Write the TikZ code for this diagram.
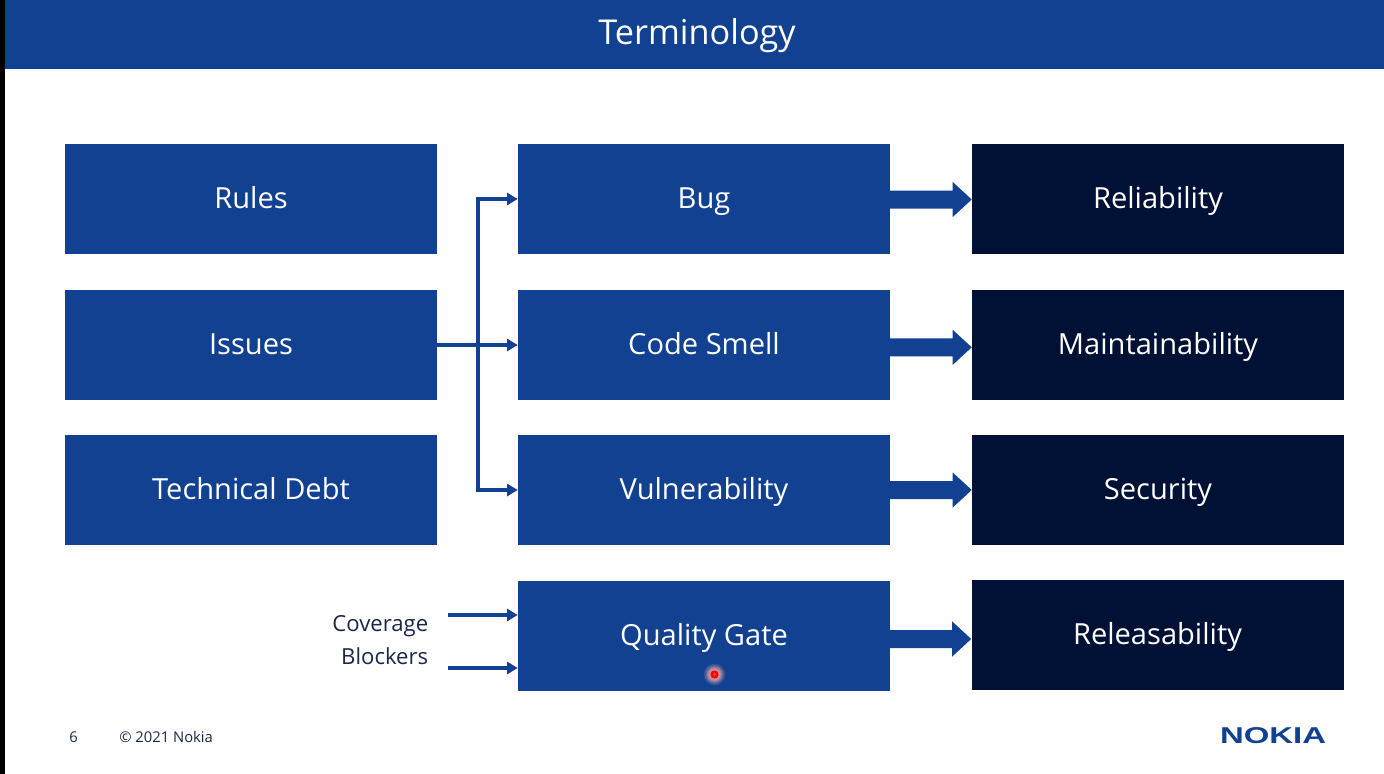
\documentclass[tikz,border=0pt]{standalone}
\usepackage{fontspec}
\setmainfont{Open Sans}
\newfontfamily\logofont{Liberation Sans}
\usetikzlibrary{arrows.meta}
\definecolor{nblue}{HTML}{124191}
\definecolor{ndark}{HTML}{001135}
\definecolor{ntext}{HTML}{1B2748}
\definecolor{halo}{HTML}{FFB0B0}
\tikzset{
  x=0.75pt,y=-0.75pt,
  box/.style={minimum width=279pt,minimum height=82.5pt,inner sep=0pt,text=white,text height=17pt,text depth=3.5pt,font=\fontsize{21.8}{26}\selectfont},
  bluebox/.style={box,fill=nblue},
  darkbox/.style={box,fill=ndark},
  thin arrow/.style={draw=nblue,line width=2.3pt,-{Triangle[length=8pt,width=9pt]}},
  fat arrow/.style={fill=nblue,draw=none},
  side/.style={text=ntext,font=\fontsize{16.6}{20}\selectfont,anchor=base east,inner sep=0pt},
  foot/.style={text=ntext,font=\fontsize{11.1}{13}\selectfont,anchor=base west,inner sep=0pt},
}
\newcommand{\fatarrow}[2]{\fill[fat arrow] (#1.west) ++(0,#2) -- ++(-19,-17.5) -- ++(0,8.5) -- ++(-63,0) -- ++(0,18) -- ++(63,0) -- ++(0,8.5) -- cycle;}
\begin{document}
\begin{tikzpicture}
\useasboundingbox (0,0) rectangle (1384,774);
\fill[white] (0,0) rectangle (1384,774);
\fill[black] (0,0) rectangle (5,774);
\fill[nblue] (5,0) rectangle (1384,69);
\node[anchor=base,inner sep=0pt,text=white,font=\fontsize{25.7}{32}\selectfont] (title) at (697,45) {Terminology};
\node[bluebox] (rules) at (251,199) {Rules};
\node[bluebox] (issues) at (251,345) {Issues};
\node[bluebox] (debt) at (251,490) {Technical Debt};
\node[bluebox] (bug) at (704,199) {Bug};
\node[bluebox] (smell) at (704,345) {Code Smell};
\node[bluebox] (vuln) at (704,490) {Vulnerability};
\node[bluebox] (gate) at (704,636) {Quality Gate};
\node[darkbox] (rel) at (1158,199) {Reliability};
\node[darkbox] (main) at (1158,345) {Maintainability};
\node[darkbox] (sec) at (1158,490) {Security};
\node[darkbox] (rele) at (1157.5,635) {Releasability};
\coordinate (bus) at (478,345);
\draw[thin arrow] (issues.east) -- (smell.west);
\draw[thin arrow] (bus) |- (bug.west);
\draw[thin arrow] (bus) |- (vuln.west);
\fatarrow{rel}{0.5}
\fatarrow{main}{2.3}
\fatarrow{sec}{0}
\fatarrow{rele}{4}
\node[side] (cov) at (428.5,631) {Coverage};
\node[side] (blk) at (428.5,664) {Blockers};
\coordinate (covs) at (448,615);
\coordinate (blks) at (448,668);
\draw[thin arrow] (covs) -- (covs-|gate.west);
\draw[thin arrow] (blks) -- (blks-|gate.west);
\node[foot] (page) at (69,742) {6};
\node[foot] (copy) at (119,742) {© 2021 Nokia};
\node[anchor=south,inner sep=0pt,text=nblue] (logo) at (1273,743.5) {\resizebox{79.5pt}{12pt}{\logofont\bfseries NOKIA}};
\foreach \r/\o in {11/0.10,10/0.12,9/0.15,8/0.20,7/0.25,6/0.30,5/0.35}{
  \fill[halo,opacity=\o] (714.5,674.5) circle (\r);
}
\fill[red] (714.5,674.5) circle (4.2);
\fill[red!75!white] (714.5,674.5) circle (1.5);
\end{tikzpicture}
\end{document}
